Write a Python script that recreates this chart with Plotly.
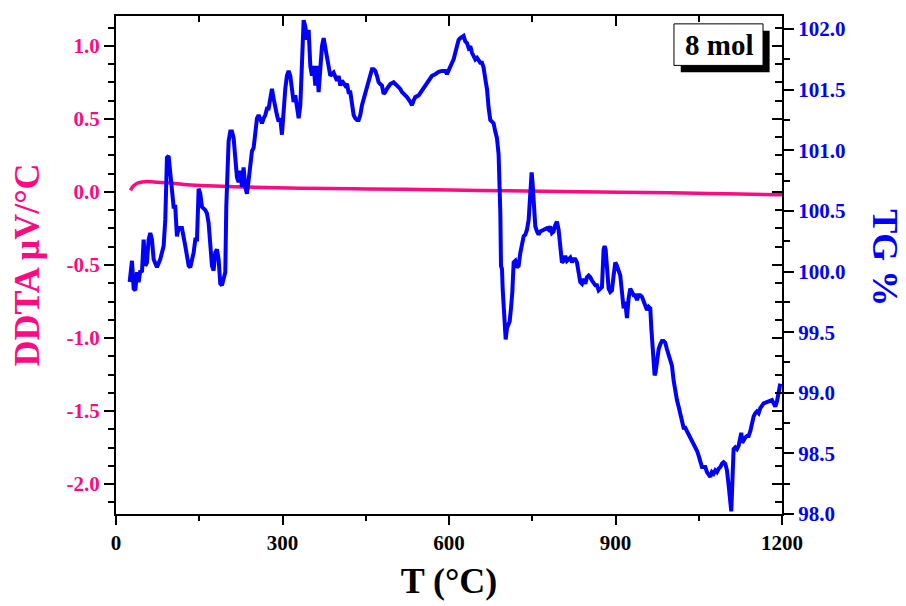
import plotly.graph_objects as go

# ---------------- DATA ----------------
# DDTA (left axis, µV/°C)
t_ddta = [26, 30, 35, 40, 47, 56, 68, 92, 122, 152, 212, 272, 332, 452, 602, 700, 836, 1000, 1100, 1200]
ddta = [0.011, 0.035, 0.052, 0.062, 0.069, 0.071, 0.069, 0.063, 0.052, 0.045, 0.036, 0.030, 0.026,
        0.021, 0.014, 0.008, 0.002, -0.006, -0.012, -0.019]

# TG (right axis, %), read in four segments
t_tg_1 = [24.6, 28.8, 31.8, 34.8, 37.8, 40.8, 43.8, 46.8, 49.8, 52.8,
          55.8, 58.8, 61.8, 64.8, 67.8, 73.8, 79.8, 85.8, 88.8, 91.8,
          94.8, 97.8, 103.8, 106.8, 109.8, 112.8, 118.8, 124.9, 130.9, 133.9,
          139.9, 142.9, 145.9, 148.9, 151.9, 154.9, 160.9, 163.9, 166.9, 172.9,
          175.9, 178.9, 181.9, 184.9, 187.9, 190.9, 193.9, 196.9, 198.7, 202.9,
          205.9, 208.9, 211.9, 214.9, 217.9, 220.9, 223.9, 226.9, 229.9, 232.9,
          235.9, 238.9, 242.0, 245.0, 248.0, 251.0, 254.0, 257.0, 260.0, 263.0,
          266.0, 269.0, 272.0, 275.0, 278.0, 281.0, 284.0, 287.0, 290.0, 293.0,
          296.0, 299.0, 302.0, 305.0, 308.0, 311.0, 314.0, 317.0, 320.0, 323.0,
          326.1, 329.1, 332.1, 335.1, 338.1, 341.1, 344.1, 347.1, 350.1, 353.1,
          356.1, 359.1, 362.1, 365.1, 368.1, 371.1, 374.1, 377.1, 380.1, 383.1,
          386.1, 392.1, 395.1, 398.1, 401.1, 404.1, 407.1, 413.1, 416.1, 419.1,
          422.2, 425.2, 428.2, 431.2, 434.2, 437.2, 440.2, 443.2, 446.2, 449.2,
          452.2, 455.2, 458.2, 461.2, 464.2, 467.2, 470.2, 473.2, 476.2, 479.2,
          482.2, 485.2, 488.2, 494.2, 500.2, 506.2, 512.2, 515.3, 521.3, 524.3,
          530.3, 533.3, 536.3, 539.3, 545.3, 551.3, 557.3, 563.3, 569.3, 575.3,
          581.3, 587.3, 593.3]
tg_1 = [99.913, 100.089, 99.859, 99.846, 99.994, 99.913, 100.008, 99.994, 100.264, 100.048,
        100.075, 100.264, 100.318, 100.264, 100.102, 100.035, 100.102, 100.210, 100.426, 100.940,
        100.953, 100.831, 100.534, 100.534, 100.291, 100.359, 100.359, 100.210, 100.048, 100.035,
        100.156, 100.264, 100.264, 100.683, 100.642, 100.534, 100.507, 100.480, 100.399, 100.048,
        100.008, 100.156, 100.183, 100.102, 99.900, 99.886, 99.927, 99.994, 100.534, 101.075,
        101.156, 101.156, 101.102, 100.913, 100.778, 100.737, 100.831, 100.696, 100.858, 100.696,
        100.642, 100.751, 100.885, 100.994, 101.021, 101.156, 101.264, 101.291, 101.264, 101.223,
        101.264, 101.291, 101.345, 101.345, 101.426, 101.507, 101.426, 101.345, 101.291, 101.237,
        101.264, 101.129, 101.345, 101.507, 101.615, 101.655, 101.615, 101.480, 101.399, 101.453,
        101.318, 101.264, 101.372, 101.831, 102.074, 102.020, 101.912, 101.993, 101.696, 101.615,
        101.696, 101.534, 101.696, 101.480, 101.750, 101.858, 101.925, 101.858, 101.777, 101.696,
        101.615, 101.642, 101.615, 101.574, 101.615, 101.534, 101.574, 101.534, 101.547, 101.480,
        101.480, 101.372, 101.291, 101.264, 101.250, 101.250, 101.291, 101.372, 101.426, 101.453,
        101.534, 101.561, 101.628, 101.669, 101.669, 101.655, 101.615, 101.561, 101.547, 101.534,
        101.466, 101.480, 101.507, 101.547, 101.561, 101.534, 101.507, 101.480, 101.453, 101.439,
        101.399, 101.372, 101.412, 101.439, 101.453, 101.493, 101.534, 101.561, 101.615, 101.628,
        101.647, 101.655, 101.655]

t_tg_2 = [596.3, 599.3, 602.3, 605.3, 608.3, 611.3, 614.3, 617.4, 620.4, 623.4,
          626.4, 629.4, 632.4, 635.4, 638.4, 641.4, 644.4, 647.4, 650.4, 653.4,
          656.4, 659.4, 662.4, 665.4, 668.4, 671.4]
tg_2 = [101.628, 101.655, 101.682, 101.723, 101.750, 101.804, 101.858, 101.912, 101.925, 101.939,
        101.944, 101.898, 101.885, 101.844, 101.858, 101.804, 101.777, 101.750, 101.763, 101.736,
        101.723, 101.723, 101.682, 101.588, 101.507, 101.350]

t_tg_3 = [674.4, 677.4, 680.4, 683.4, 686.4, 689.4, 691.3, 692.5, 693.7, 695.5,
          696.7, 698.5, 700.3, 702.1, 704.5, 706.9, 709.3, 711.7, 714.1, 716.5,
          719.5, 722.5, 725.5, 728.5, 731.5, 734.5, 737.5, 740.5, 743.5, 745.3,
          747.1, 748.9, 750.7, 752.5, 755.5, 758.5, 761.5, 764.5, 770.5, 776.5,
          779.5, 782.5]
tg_3 = [101.250, 101.236, 101.222, 101.155, 101.101, 100.966, 100.750, 100.480, 100.048, 100.020,
        99.858, 99.669, 99.588, 99.440, 99.534, 99.561, 99.588, 99.696, 99.831, 100.075,
        100.088, 100.034, 100.048, 100.155, 100.237, 100.291, 100.304, 100.345, 100.426, 100.561,
        100.804, 100.817, 100.723, 100.534, 100.372, 100.331, 100.304, 100.331, 100.345, 100.358,
        100.345, 100.372]

t_tg_4 = [785.5, 788.5, 791.5, 794.5, 797.5, 800.5, 803.5, 806.5, 809.5, 812.5,
          815.5, 818.5, 821.5, 824.5, 827.5, 830.5, 833.5, 836.5, 839.6, 842.6,
          845.6, 848.6, 851.6, 854.6, 857.6, 860.6, 863.6, 866.6, 869.6, 872.6,
          875.6, 878.6, 880.4, 882.2, 884.6, 887.6, 890.6, 893.6, 896.6, 899.6,
          902.6, 905.6, 908.6, 911.6, 914.6, 917.6, 920.6, 923.6, 926.6, 929.6,
          932.7, 935.7, 938.7, 941.7, 944.7, 947.7, 950.7, 953.7, 956.7, 959.7,
          962.7, 964.5, 966.3, 968.7, 970.5, 972.3, 974.7, 977.7, 980.7, 983.7,
          986.7, 989.7, 992.7, 995.7, 998.7, 1001.7, 1004.7, 1007.7, 1010.7, 1013.7,
          1016.7, 1019.7, 1022.7, 1025.7, 1028.7, 1031.7, 1034.8, 1037.8, 1040.8, 1043.8,
          1046.8, 1049.8, 1052.8, 1055.8, 1058.8, 1061.8, 1064.8, 1067.8, 1070.8, 1073.8,
          1076.8, 1079.8, 1082.8, 1085.8, 1088.8, 1091.8, 1094.8, 1097.8, 1100.8, 1103.8,
          1106.8, 1108.6, 1110.4, 1112.8, 1115.8, 1118.8, 1121.8, 1124.8, 1126.6, 1128.4,
          1130.8, 1133.8, 1136.8, 1139.8, 1142.9, 1145.9, 1148.9, 1151.9, 1154.9, 1157.9,
          1160.9, 1166.9, 1172.9, 1178.9, 1181.9, 1184.9, 1187.9, 1190.9, 1193.9, 1196.9]
tg_4 = [100.318, 100.331, 100.385, 100.412, 100.345, 100.210, 100.075, 100.088, 100.129, 100.088,
        100.102, 100.115, 100.075, 100.102, 100.102, 100.075, 99.994, 99.913, 99.899, 99.940,
        99.899, 99.953, 99.967, 99.953, 99.926, 99.899, 99.886, 99.886, 99.845, 99.859,
        99.872, 100.183, 100.210, 100.183, 99.994, 99.859, 99.832, 99.845, 99.967, 100.075,
        100.048, 99.994, 99.967, 99.832, 99.697, 99.751, 99.616, 99.778, 99.859, 99.832,
        99.805, 99.805, 99.764, 99.805, 99.805, 99.791, 99.751, 99.724, 99.683, 99.710,
        99.697, 99.535, 99.373, 99.211, 99.143, 99.170, 99.292, 99.359, 99.400, 99.427,
        99.427, 99.413, 99.359, 99.305, 99.251, 99.224, 99.102, 98.994, 98.940, 98.886,
        98.832, 98.751, 98.711, 98.711, 98.684, 98.657, 98.630, 98.603, 98.589, 98.562,
        98.522, 98.481, 98.414, 98.387, 98.387, 98.387, 98.346, 98.319, 98.306, 98.346,
        98.333, 98.360, 98.346, 98.373, 98.387, 98.414, 98.427, 98.414, 98.360, 98.238,
        98.022, 98.022, 98.238, 98.535, 98.549, 98.535, 98.562, 98.657, 98.670, 98.589,
        98.616, 98.630, 98.643, 98.643, 98.684, 98.751, 98.805, 98.832, 98.846, 98.832,
        98.873, 98.913, 98.927, 98.940, 98.940, 98.913, 98.886, 98.927, 99.021, 99.075]

x_ticks = [0, 300, 600, 900, 1200]
ddta_ticks = [-2.0, -1.5, -1.0, -0.5, 0.0, 0.5, 1.0]
tg_ticks = [98.0, 98.5, 99.0, 99.5, 100.0, 100.5, 101.0, 101.5, 102.0]
sample_label = "8 mol"

t_tg = t_tg_1 + t_tg_2 + t_tg_3 + t_tg_4
tg = tg_1 + tg_2 + tg_3 + tg_4
ddta_ticktext = [f"{v:.1f}" for v in ddta_ticks]   # plain hyphen minus, as in the original
tg_ticktext = [f"{v:.1f}" for v in tg_ticks]

# ---------------- STYLE ----------------
PINK = "#FF0A82"
BLUE = "#0000FF"
FONT = "Liberation Serif"
DDTA_RANGE = [-2.205, 1.205]
TG_RANGE = [98.0, 102.108]
X_RANGE = [0, 1200]

fig = go.Figure()
fig.add_trace(go.Scatter(x=t_ddta, y=ddta, mode="lines", line=dict(color=PINK, width=3.5, shape="spline"),
                         name="DDTA", yaxis="y", showlegend=False))
fig.add_trace(go.Scatter(x=t_tg, y=tg, mode="lines", line=dict(color=BLUE, width=4),
                         name="TG", yaxis="y2", showlegend=False))
# helper (empty) traces so that the tick-only mirror axes are rendered
fig.add_trace(go.Scatter(x=[], y=[], xaxis="x2", yaxis="y", showlegend=False, hoverinfo="skip"))
fig.add_trace(go.Scatter(x=[], y=[], xaxis="x", yaxis="y3", showlegend=False, hoverinfo="skip"))

tickfont_common = dict(family=FONT, size=21, weight="bold")

fig.update_layout(
    width=906, height=606,
    margin=dict(l=116, r=124, t=16, b=83),
    paper_bgcolor="white", plot_bgcolor="white",
    xaxis=dict(range=X_RANGE, tickmode="array", tickvals=x_ticks,
               ticks="outside", ticklen=9, tickwidth=2, tickcolor="black",
               minor=dict(dtick=150, tick0=0, ticks="outside", ticklen=5, tickwidth=2, tickcolor="black"),
               showline=True, linecolor="black", linewidth=2, mirror=True,
               showgrid=False, zeroline=False,
               tickfont=dict(color="black", **tickfont_common),
               title=dict(text="T (°C)", font=dict(family=FONT, size=36, weight="bold", color="black"),
                          standoff=14)),
    xaxis2=dict(range=X_RANGE, overlaying="x", side="top", anchor="y",
                tickmode="array", tickvals=x_ticks, ticks="inside", ticklen=10, tickwidth=2, tickcolor="black",
                minor=dict(dtick=150, tick0=0, ticks="inside", ticklen=6, tickwidth=2, tickcolor="black"),
                showticklabels=False, showgrid=False, zeroline=False, showline=False),
    yaxis=dict(range=DDTA_RANGE, tickmode="array", tickvals=ddta_ticks, ticktext=ddta_ticktext,
               ticks="outside", ticklen=10, tickwidth=2, tickcolor="black",
               minor=dict(dtick=0.125, tick0=0, ticks="outside", ticklen=6, tickwidth=2, tickcolor="black"),
               showline=True, linecolor="black", linewidth=2, mirror=True,
               showgrid=False, zeroline=False,
               tickfont=dict(color=PINK, **tickfont_common),
               title=dict(text="DDTA μV/°C", font=dict(family=FONT, size=36, weight="bold", color=PINK),
                          standoff=16)),
    yaxis2=dict(range=TG_RANGE, overlaying="y", side="right", anchor="x",
                tickmode="array", tickvals=tg_ticks, ticktext=tg_ticktext,
                ticks="outside", ticklen=10, tickwidth=2, tickcolor="black",
                minor=dict(dtick=0.25, tick0=98, ticks="outside", ticklen=6, tickwidth=2, tickcolor="black"),
                showline=True, linecolor="black", linewidth=2,
                showgrid=False, zeroline=False,
                tickfont=dict(color=BLUE, **tickfont_common)),
    yaxis3=dict(range=DDTA_RANGE, overlaying="y", side="right", anchor="x",
                tickmode="array", tickvals=ddta_ticks, ticks="inside", ticklen=10, tickwidth=2, tickcolor="black",
                minor=dict(dtick=0.125, tick0=0, ticks="inside", ticklen=7, tickwidth=2, tickcolor="black"),
                showticklabels=False, showgrid=False, zeroline=False, showline=False),
)

# right-axis title reading top-to-bottom
fig.add_annotation(text="TG %", xref="paper", yref="paper", x=1.155, y=0.515,
                   xanchor="center", yanchor="middle", textangle=90, showarrow=False,
                   font=dict(family=FONT, size=36, weight="bold", color=BLUE))

# sample label box with drop shadow
fig.add_shape(type="rect", xref="paper", yref="paper", x0=0.848, x1=0.9814, y0=0.887, y1=0.9704,
              fillcolor="black", line=dict(color="black", width=0), layer="above")
fig.add_shape(type="rect", xref="paper", yref="paper", x0=0.8378, x1=0.9715, y0=0.9008, y1=0.9842,
              fillcolor="white", line=dict(color="black", width=1), layer="above")
fig.add_annotation(text=sample_label, xref="paper", yref="paper", x=0.9047, y=0.942,
                   xanchor="center", yanchor="middle", showarrow=False,
                   font=dict(family=FONT, size=29, weight="bold", color="black"))

fig.write_html("out.html")
